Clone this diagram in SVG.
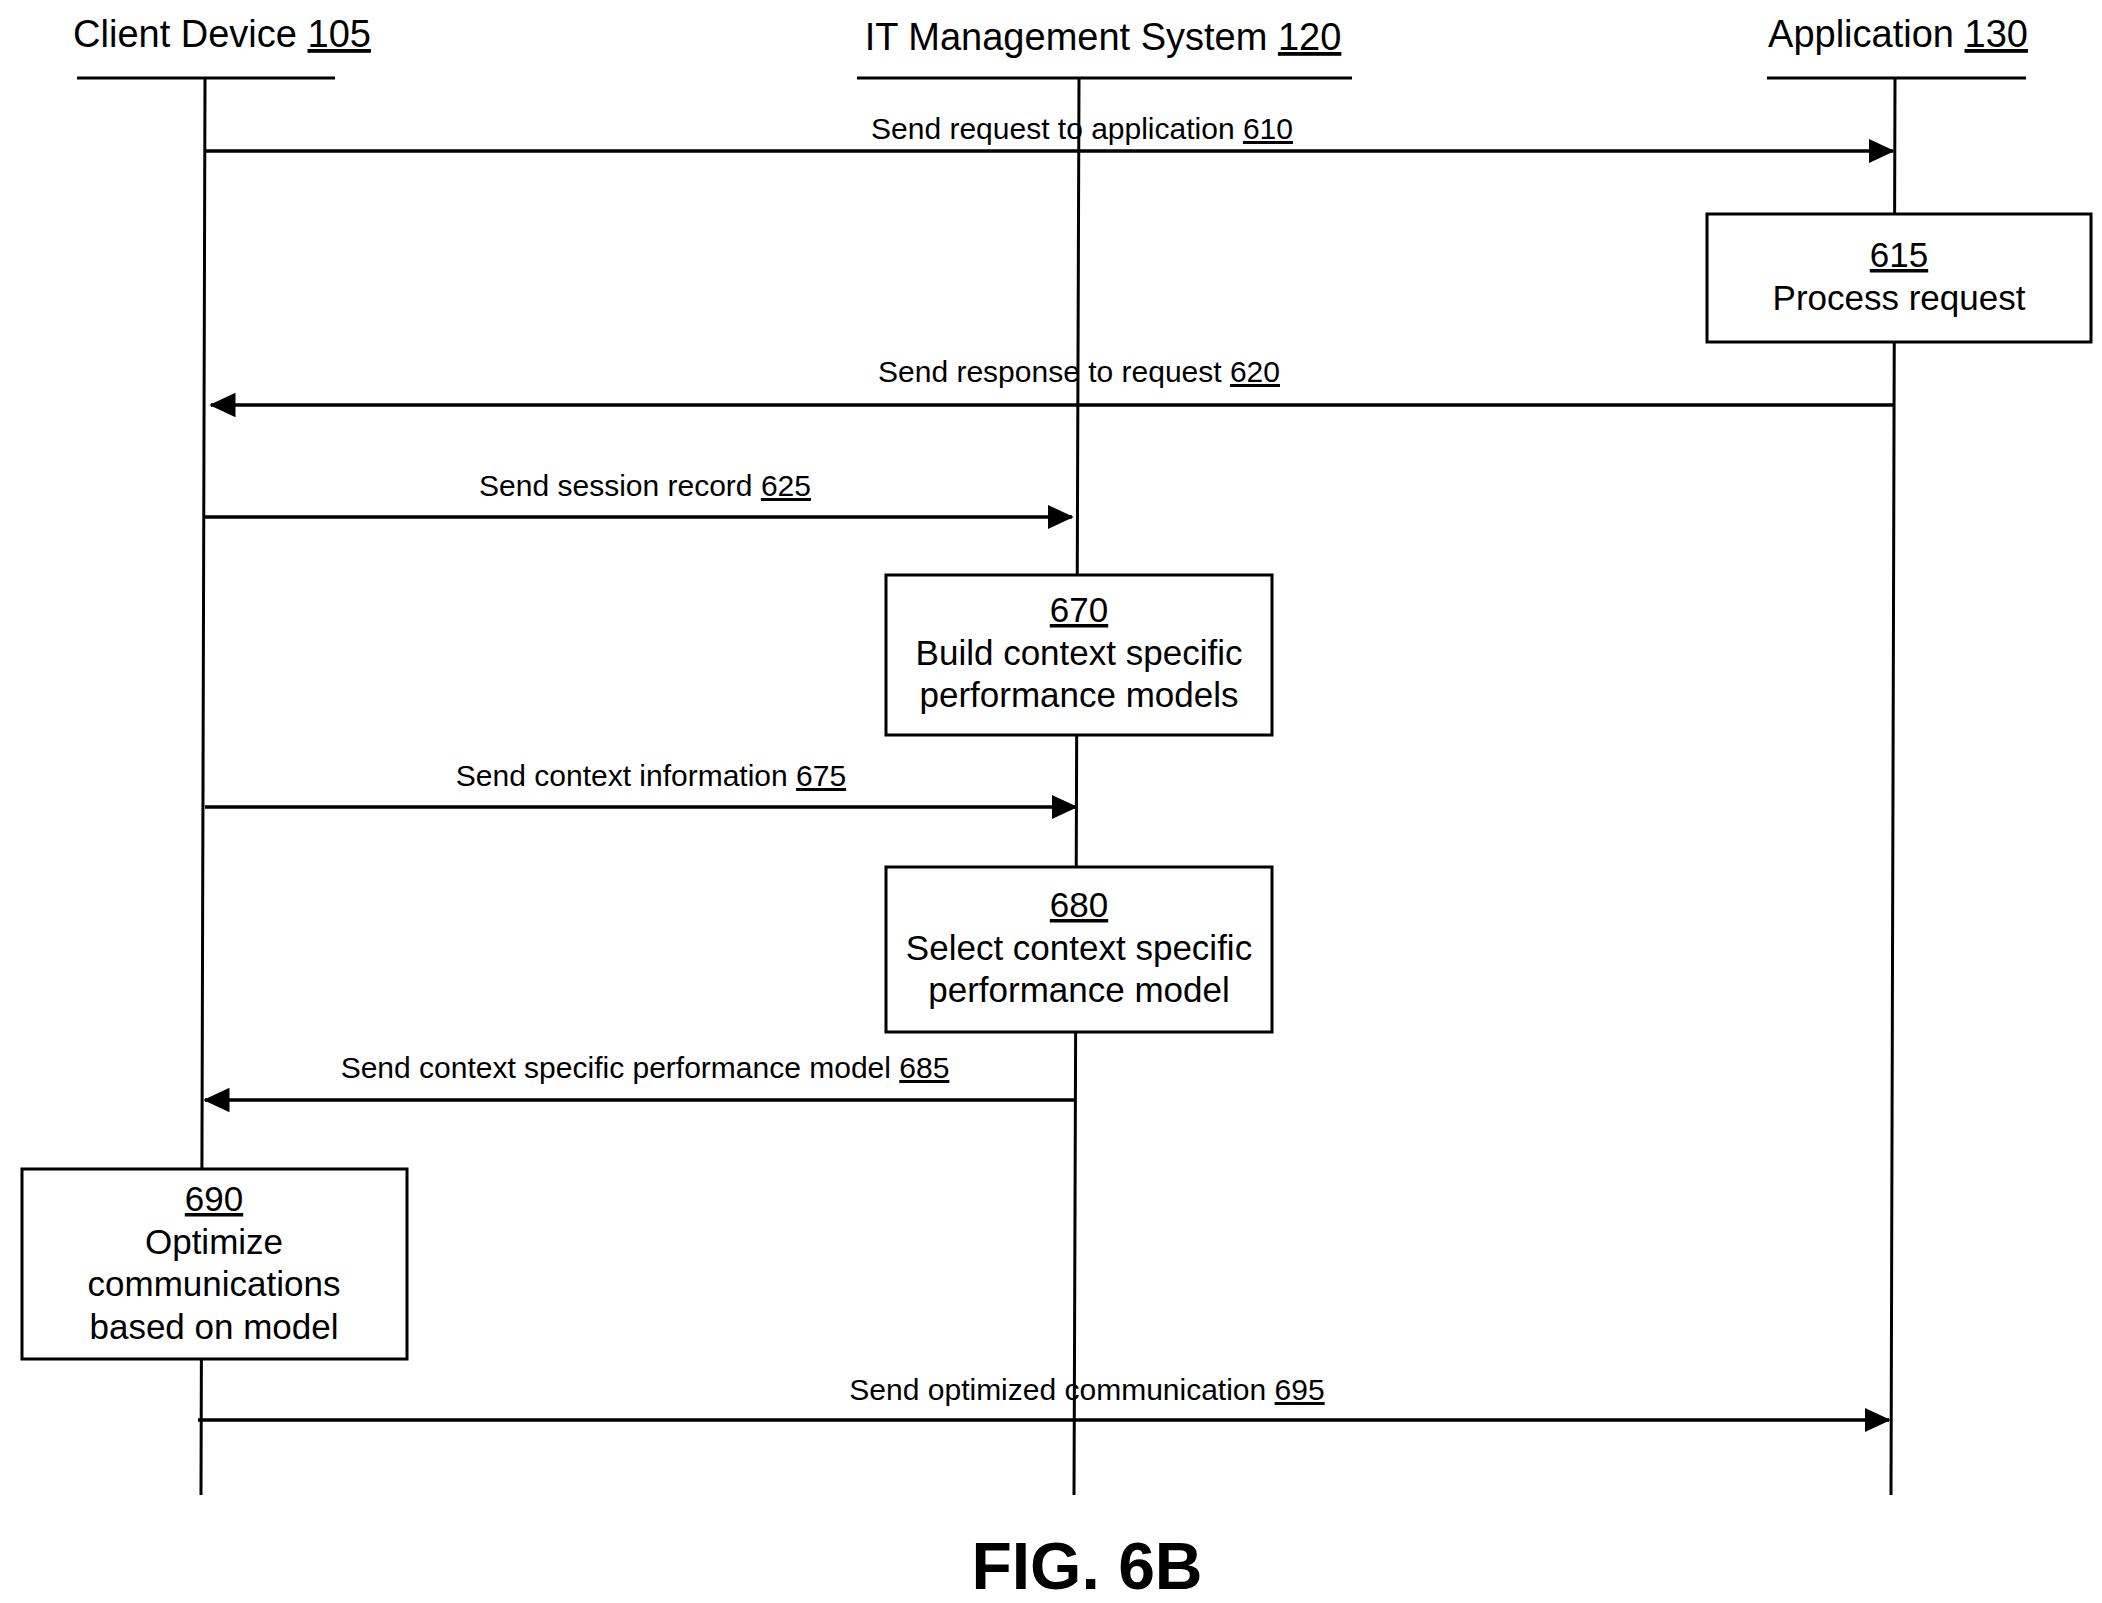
<svg xmlns="http://www.w3.org/2000/svg" width="2102" height="1603" viewBox="0 0 2102 1603">
<style>
text{font-family:"Liberation Sans",Arial,sans-serif;fill:#000;text-anchor:middle}
.h{font-size:38px}.m{font-size:30px}.b{font-size:35px}
.l{stroke:#000;stroke-width:3;fill:none}
.a{stroke:#000;stroke-width:3.5;fill:none;marker-end:url(#ah)}
.box{fill:#fff;stroke:#000;stroke-width:3}
</style>
<defs><marker id="ah" markerWidth="8" markerHeight="8" refX="7" refY="4" orient="auto" markerUnits="strokeWidth"><path d="M0,0.5 L7.5,4 L0,7.5 Z" fill="#000"/></marker></defs>
<rect width="2102" height="1603" fill="#fff"/>
<g id="client"><text class="h" x="222" y="47">Client Device <tspan text-decoration="underline">105</tspan></text><path class="l" d="M77,78H335M205,78L201,1495"/></g>
<g id="itms"><text class="h" x="1103" y="50">IT Management System <tspan text-decoration="underline">120</tspan></text><path class="l" d="M857,78H1352M1079,78L1074,1495"/></g>
<g id="app"><text class="h" x="1898" y="47">Application <tspan text-decoration="underline">130</tspan></text><path class="l" d="M1767,78H2026M1895,78L1891,1495"/></g>
<g id="connectors">
<path class="a" d="M205,151H1893"/>
<path class="a" d="M1895,405H211"/>
<path class="a" d="M203,517H1072"/>
<path class="a" d="M205,807H1076"/>
<path class="a" d="M1074,1100H205"/>
<path class="a" d="M198,1420H1889"/>
<text class="m" x="1082" y="139">Send request to application  <tspan text-decoration="underline">610</tspan></text>
<text class="m" x="1079" y="382">Send response to request  <tspan text-decoration="underline">620</tspan></text>
<text class="m" x="645" y="496">Send session record <tspan text-decoration="underline">625</tspan></text>
<text class="m" x="651" y="786">Send context information <tspan text-decoration="underline">675</tspan></text>
<text class="m" x="645" y="1078">Send context specific performance model  <tspan text-decoration="underline">685</tspan></text>
<text class="m" x="1087" y="1400">Send optimized communication <tspan text-decoration="underline">695</tspan></text>
</g>
<g id="n615"><rect class="box" x="1707" y="214" width="384" height="128"/><text class="b" x="1899" y="267" text-decoration="underline">615</text><text class="b" x="1899" y="310">Process request</text></g>
<g id="n670"><rect class="box" x="886" y="575" width="386" height="160"/><text class="b" x="1079" y="622" text-decoration="underline">670</text><text class="b" x="1079" y="665">Build context specific</text><text class="b" x="1079" y="707">performance models</text></g>
<g id="n680"><rect class="box" x="886" y="867" width="386" height="165"/><text class="b" x="1079" y="917" text-decoration="underline">680</text><text class="b" x="1079" y="960">Select context specific</text><text class="b" x="1079" y="1002">performance model</text></g>
<g id="n690"><rect class="box" x="22" y="1169" width="385" height="190"/><text class="b" x="214" y="1211" text-decoration="underline">690</text><text class="b" x="214" y="1254">Optimize</text><text class="b" x="214" y="1296">communications</text><text class="b" x="214" y="1339">based on model</text></g>
<text x="1087" y="1589" style="font-size:66px;font-weight:bold">FIG. 6B</text>
</svg>
